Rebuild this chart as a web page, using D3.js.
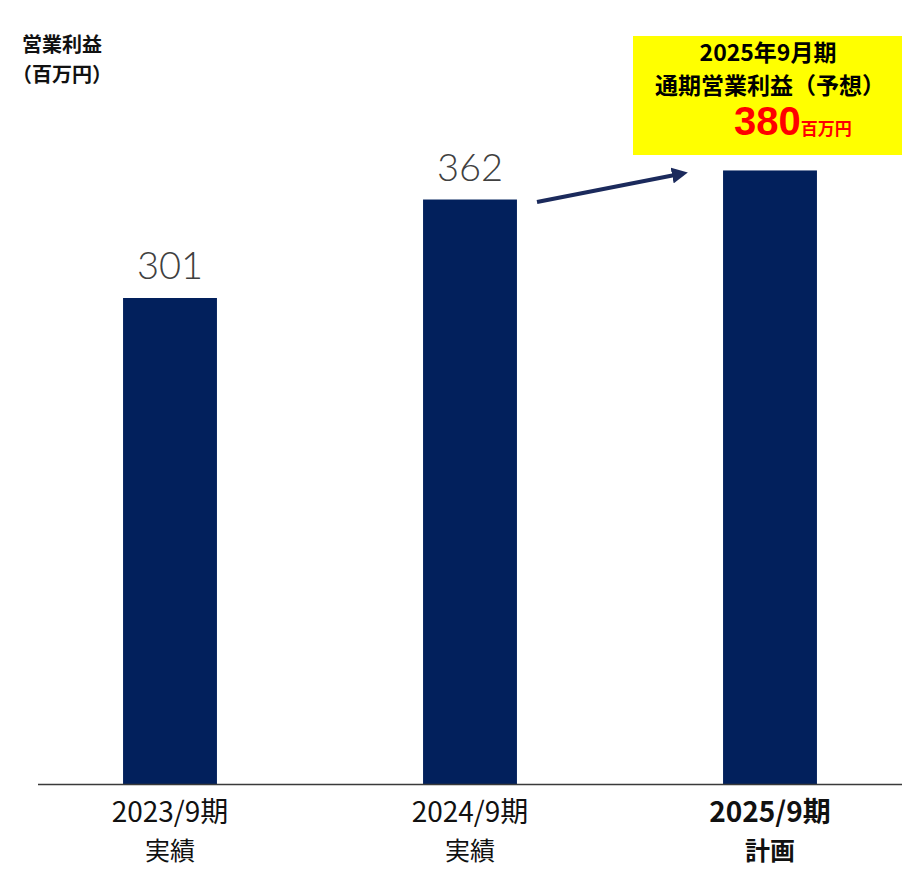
<!DOCTYPE html>
<html>
<head>
<meta charset="utf-8">
<script src="https://cdn.jsdelivr.net/npm/d3@7"></script>
<style>
  body { margin: 0; background: #fff; }
  svg { display: block; }
</style>
</head>
<body>
<div id="vis"></div>
<script>
// datos del gráfico
const periods = ["2023/9期", "2024/9期", "2025/9期"];
const subLabels = ["実績", "実績", "計画"];
const profits = [301, 362, 380];
const boldFlags = [false, false, true];

const width = 902, height = 869;
const baseY = 784;

const svg = d3.select("#vis").append("svg")
  .attr("width", width)
  .attr("height", height);

const x = d3.scaleBand()
  .domain(periods)
  .range([20, 920])
  .paddingInner(0.687)
  .paddingOuter(0.3435);

// 1.6146 px por unidad
const y = d3.scaleLinear()
  .domain([0, 400])
  .range([baseY, baseY - 400 * 1.6146]);

const data = periods.map((p, i) => ({ p, v: profits[i], sub: subLabels[i], bold: boldFlags[i] }));

// barras
svg.selectAll("rect.bar")
  .data(data)
  .enter()
  .append("rect")
  .attr("class", "bar")
  .attr("x", d => x(d.p))
  .attr("y", d => y(d.v))
  .attr("width", x.bandwidth())
  .attr("height", d => y(0) - y(d.v))
  .attr("fill", "#02205c");

// valores encima (solo los reales)
svg.selectAll("text.value")
  .data(data.filter(d => !d.bold))
  .enter()
  .append("text")
  .attr("class", "value")
  .attr("x", d => x(d.p) + x.bandwidth() / 2)
  .attr("y", d => y(d.v) - 19)
  .attr("text-anchor", "middle")
  .attr("font-family", "Lato, 'Open Sans', sans-serif")
  .attr("font-weight", 300)
  .attr("font-size", 38)
  .attr("fill", "#404040")
  .text(d => d.v);

// línea base
svg.append("line")
  .attr("x1", 38).attr("x2", 902)
  .attr("y1", baseY + 0.5).attr("y2", baseY + 0.5)
  .attr("stroke", "#3a3a3a")
  .attr("stroke-width", 1.5);

// etiquetas eje x
const xl = svg.selectAll("g.xlab")
  .data(data)
  .enter()
  .append("g")
  .attr("class", "xlab")
  .attr("transform", d => `translate(${x(d.p) + x.bandwidth() / 2},0)`)
  .attr("font-family", "'Noto Sans CJK JP', sans-serif")
  .attr("text-anchor", "middle")
  .attr("fill", "#111");

xl.append("text")
  .attr("y", 822)
  .attr("font-size", 28)
  .attr("font-weight", d => d.bold ? 700 : 400)
  .text(d => d.p);

xl.append("text")
  .attr("y", 860)
  .attr("font-size", 25)
  .attr("font-weight", d => d.bold ? 700 : 400)
  .text(d => d.sub);

// título eje y
const yt = svg.append("g")
  .attr("font-family", "'Noto Sans CJK JP', sans-serif")
  .attr("font-weight", 700)
  .attr("font-size", 20)
  .attr("fill", "#111");
yt.append("text").attr("x", 22).attr("y", 52).text("営業利益");
yt.append("text").attr("x", 12).attr("y", 82).text("（百万円）");

// flecha
svg.append("defs").append("marker")
  .attr("id", "arrow")
  .attr("viewBox", "0 0 10 10")
  .attr("refX", 5).attr("refY", 5)
  .attr("markerWidth", 4).attr("markerHeight", 4)
  .attr("orient", "auto")
  .append("path")
  .attr("d", "M0,0 L10,5 L0,10 Z")
  .attr("fill", "#1b2a5c");

svg.append("line")
  .attr("x1", 537).attr("y1", 202)
  .attr("x2", 680).attr("y2", 174)
  .attr("stroke", "#1b2a5c")
  .attr("stroke-width", 4)
  .attr("marker-end", "url(#arrow)");

// caja amarilla
svg.append("rect")
  .attr("x", 633).attr("y", 36)
  .attr("width", 270).attr("height", 119)
  .attr("fill", "#ffff00");

const cb = svg.append("g")
  .attr("font-family", "'Noto Sans CJK JP', sans-serif")
  .attr("font-weight", 700)
  .attr("text-anchor", "middle");
cb.append("text").attr("x", 768).attr("y", 61).attr("font-size", 23).attr("fill", "#000").text("2025年9月期");
cb.append("text").attr("x", 770).attr("y", 94).attr("font-size", 23).attr("fill", "#000").text("通期営業利益（予想）");

const big = cb.append("text")
  .attr("x", 734).attr("y", 135)
  .attr("text-anchor", "start")
  .attr("font-family", "'Liberation Sans', Arial, sans-serif")
  .attr("font-size", 40)
  .attr("fill", "#ff0000");
big.append("tspan").text(profits[2]);
big.append("tspan").attr("font-family", "'Noto Sans CJK JP', sans-serif").attr("font-size", 17).text("百万円");
</script>
</body>
</html>
